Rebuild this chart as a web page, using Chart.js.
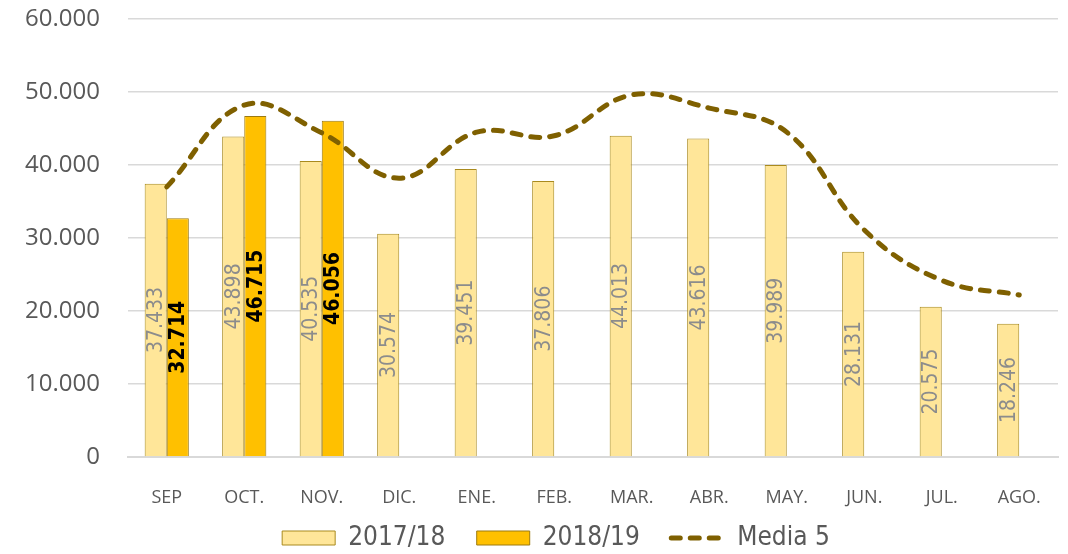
<!DOCTYPE html>
<html>
<head>
<meta charset="utf-8">
<script src="https://cdn.jsdelivr.net/npm/chart.js@4"></script>
<style>
  html, body { margin: 0; padding: 0; background: #fff; }
  #wrap { width: 1068px; height: 554px; }
</style>
</head>
<body>
<div id="wrap"><canvas id="myChart"></canvas></div>
<script>
// chart data
const meses = ['SEP', 'OCT.', 'NOV.', 'DIC.', 'ENE.', 'FEB.', 'MAR.', 'ABR.', 'MAY.', 'JUN.', 'JUL.', 'AGO.'];
const serie1718 = [37433, 43898, 40535, 30574, 39451, 37806, 44013, 43616, 39989, 28131, 20575, 18246];
const serie1819 = [32714, 46715, 46056, null, null, null, null, null, null, null, null, null];
const media5 = [37000, 48200, 44400, 38200, 44500, 44000, 49600, 47800, 44500, 31100, 24200, 22200];

const fmt = v => String(v).replace(/\B(?=(\d{3})+(?!\d))/g, '.');
const narrow = '"DejaVu Sans Condensed", "Liberation Sans Narrow", sans-serif';

// vertical labels inside the bars
const barLabels = {
    id: 'barLabels',
    afterDatasetsDraw(chart) {
        const ctx = chart.ctx;
        chart.data.datasets.forEach((ds, i) => {
            if (!ds.labelStyle) return;
            const meta = chart.getDatasetMeta(i);
            meta.data.forEach((bar, j) => {
                const v = ds.data[j];
                if (v == null) return;
                ctx.save();
                ctx.translate(bar.x, (bar.y + bar.base) / 2);
                ctx.rotate(-Math.PI / 2);
                ctx.font = ds.labelStyle.font;
                ctx.fillStyle = ds.labelStyle.color;
                ctx.textAlign = 'center';
                ctx.textBaseline = 'middle';
                ctx.fillText(fmt(v), 0, 1);
                ctx.restore();
            });
        });
    }
};

// legend sits a bit right of the canvas centre in the original
const legendShift = {
    id: 'legendShift',
    afterLayout(chart) {
        chart.legend.left += 27;
        chart.legend.right += 27;
    }
};

const config = {
    type: 'bar',
    data: {
        labels: meses,
        datasets: [{
            label: '2017/18',
            data: serie1718,
            backgroundColor: '#FFE699',
            borderColor: '#A98A1E',
            borderWidth: 1,
            pointStyle: 'rect',
            order: 1,
            categoryPercentage: 0.57,
            barPercentage: 1.0,
            labelStyle: { font: '21px ' + narrow, color: '#8C8C8C' }
        }, {
            label: '2018/19',
            data: serie1819,
            backgroundColor: '#FFC000',
            borderColor: '#9C7A10',
            borderWidth: 1,
            pointStyle: 'rect',
            order: 1,
            categoryPercentage: 0.57,
            barPercentage: 1.0,
            labelStyle: { font: 'bold 21px ' + narrow, color: '#000000' }
        }, {
            type: 'line',
            label: 'Media 5',
            data: media5,
            borderColor: '#7F6000',
            backgroundColor: '#7F6000',
            borderWidth: 5,
            borderDash: [9, 10],
            borderCapStyle: 'round',
            tension: 0.4,
            pointRadius: 0,
            pointStyle: 'line',
            order: 0
        }]
    },
    options: {
        responsive: true,
        maintainAspectRatio: false,
        animation: false,
        layout: {
            padding: { top: 19, right: 10, bottom: -7, left: 0 }
        },
        plugins: {
            tooltip: { enabled: false },
            legend: {
                position: 'bottom',
                labels: {
                    usePointStyle: true,
                    pointStyleWidth: 53,
                    boxHeight: 14,
                    padding: 8,
                    color: '#595959',
                    font: { family: narrow, size: 26 },
                    generateLabels: chart => {
                        const items = Chart.defaults.plugins.legend.labels.generateLabels(chart);
                        items.sort((a, b) => a.datasetIndex - b.datasetIndex);
                        items.forEach((it, i) => {
                            const ds = chart.data.datasets[it.datasetIndex];
                            if (i < items.length - 1) it.text += '\u2003';
                            if (ds.type === 'line') {
                                it.lineDash = ds.borderDash;
                                it.lineWidth = ds.borderWidth;
                                it.lineCap = 'round';
                                it.strokeStyle = ds.borderColor;
                            } else {
                                it.lineWidth = 1;
                            }
                        });
                        return items;
                    }
                }
            }
        },
        scales: {
            x: {
                grid: { display: false },
                border: { color: '#D9D9D9', width: 2 },
                ticks: {
                    color: '#595959',
                    padding: 22,
                    font: { family: '"Open Sans", sans-serif', size: 18 }
                },
                afterFit: scale => { scale.height = 60; }
            },
            y: {
                min: 0,
                max: 60000,
                grid: { color: '#D9D9D9', lineWidth: 1.5, drawTicks: true, tickLength: 28, tickColor: 'rgba(0,0,0,0)' },
                border: { display: false },
                ticks: {
                    stepSize: 10000,
                    color: '#595959',
                    padding: 0,
                    font: { family: '"Open Sans", sans-serif', size: 24 },
                    callback: v => fmt(v)
                },
                afterFit: scale => { scale.width = 128; }
            }
        }
    },
    plugins: [barLabels, legendShift]
};

const myChart = new Chart(document.getElementById('myChart'), config);
</script>
</body>
</html>
